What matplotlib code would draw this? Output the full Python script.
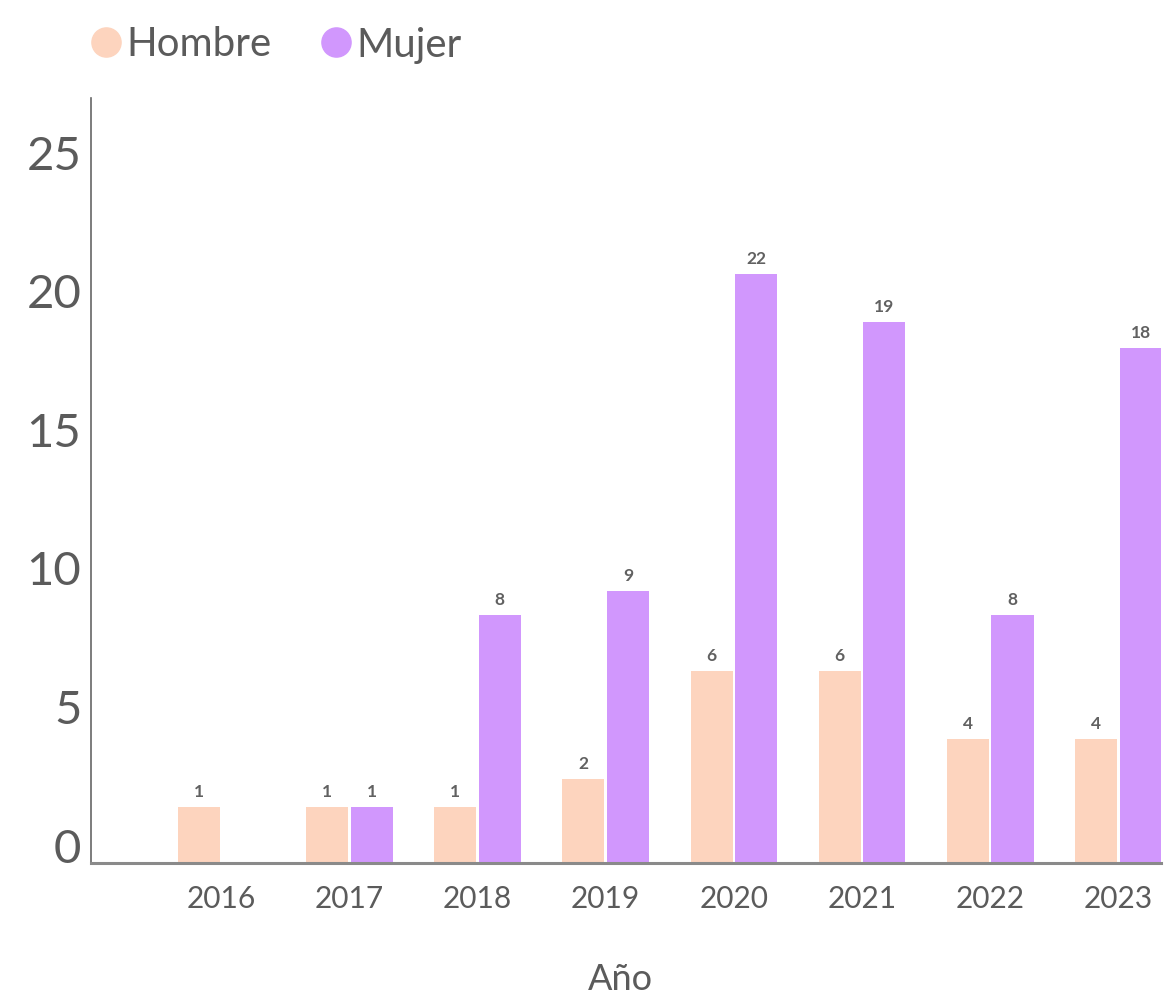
import matplotlib.pyplot as plt
from matplotlib.lines import Line2D
import numpy as np

plt.rcParams['font.family'] = ['Lato', 'DejaVu Sans']

# datos
anios = ['2016', '2017', '2018', '2019', '2020', '2021', '2022', '2023']
# alturas de las barras, tal como se ven en la escala del eje
hombre = [1.99, 1.99, 1.99, 3.02, 6.90, 6.90, 4.47, 4.47]
mujer = [0, 1.99, 8.92, 9.78, 21.23, 19.49, 8.92, 18.55]
# etiquetas que aparecen sobre las barras
hombre_txt = ['1', '1', '1', '2', '6', '6', '4', '4']
mujer_txt = ['', '1', '8', '9', '22', '19', '8', '18']
yticks = [0, 5, 10, 15, 20, 25]

c_hombre = '#FDD4BE'
c_mujer = '#D197FD'
gris = '#5b5b5b'

fig = plt.figure(figsize=(11.71, 9.99), dpi=100)
ax = fig.add_axes([0.0777, 0.1366, 0.9135, 0.7653])

x = np.arange(len(anios))
w = 0.328
off = 0.174
b1 = ax.bar(x - off, hombre, w, color=c_hombre, label='Hombre')
b2 = ax.bar(x + off, mujer, w, color=c_mujer, label='Mujer')

for bars, txts in [(b1, hombre_txt), (b2, mujer_txt)]:
    for b, t in zip(bars, txts):
        if t:
            ax.annotate(t, (b.get_x() + b.get_width() / 2, b.get_height()),
                        xytext=(0, 5), textcoords='offset points',
                        ha='center', va='bottom', fontsize=12.5,
                        fontweight='bold', color='#616161')

ax.set_xlim(-1.015, 7.33)
ax.set_ylim(0, 27.58)
ax.set_xticks(x)
ax.set_xticklabels(anios)
ax.set_yticks(yticks)
ax.tick_params(axis='x', length=0, pad=16, labelsize=21.5, labelcolor=gris)
ax.tick_params(axis='y', length=0, pad=7, labelsize=34, labelcolor=gris)
for lab in ax.get_yticklabels():
    lab.set_va('baseline')

for s in ['top', 'right']:
    ax.spines[s].set_visible(False)
ax.spines['left'].set_color('#666666')
ax.spines['left'].set_linewidth(1.2)
ax.spines['bottom'].set_color('#8a8a8a')
ax.spines['bottom'].set_linewidth(2.2)

fig.text(620 / 1171, 1 - 980 / 999, 'Año', ha='center', va='center',
         fontsize=26, color=gris)

# marcadores circulares en la leyenda
h = [Line2D([], [], marker='o', ls='', markersize=21, color=c) for c in (c_hombre, c_mujer)]
fig.legend(handles=h, labels=['Hombre', 'Mujer'],
           loc='center left', bbox_to_anchor=(90 / 1171, 1 - 45 / 999),
           ncol=2, frameon=False, fontsize=29, labelcolor=gris,
           handlelength=0.8, handletextpad=0.1,
           columnspacing=1.2, borderaxespad=0, borderpad=0)

fig.savefig('out.png', dpi=100)
